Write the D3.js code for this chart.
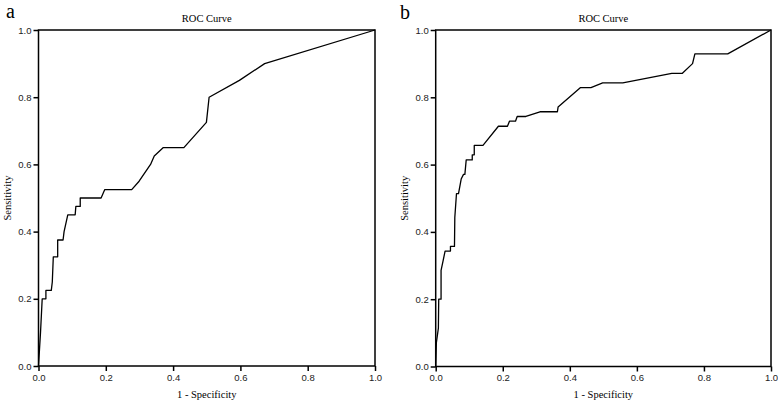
<!DOCTYPE html>
<html><head><meta charset="utf-8">
<script src="https://cdn.jsdelivr.net/npm/d3@7"></script>
<style>
body{margin:0;background:#fff;}
svg{display:block;}
</style></head>
<body>
<svg id="chart" width="778" height="402"></svg>
<script>
// Panel a: ROC curve (1 - specificity, sensitivity)
const fprA = [0,0.003,0.006,0.011,0.022,0.022,0.038,0.041,0.044,0.057,0.057,0.073,0.076,0.087,0.109,0.111,0.124,0.124,0.186,0.197,0.277,0.299,0.333,0.344,0.371,0.432,0.499,0.507,0.597,0.672,1];
const tprA = [0,0.05,0.1,0.2,0.2,0.225,0.225,0.25,0.325,0.325,0.375,0.375,0.4,0.45,0.45,0.475,0.475,0.5,0.5,0.525,0.525,0.55,0.6,0.625,0.65,0.65,0.725,0.8,0.85,0.9,1];
// Panel b
const fprB = [0,0.002,0.008,0.009,0.016,0.016,0.022,0.028,0.044,0.044,0.056,0.057,0.062,0.068,0.076,0.083,0.087,0.091,0.109,0.109,0.115,0.115,0.141,0.187,0.214,0.22,0.238,0.243,0.269,0.311,0.363,0.365,0.432,0.463,0.498,0.558,0.704,0.735,0.766,0.773,0.871,1];
const tprB = [0,0.071,0.114,0.2,0.2,0.286,0.314,0.343,0.343,0.357,0.357,0.443,0.514,0.514,0.557,0.571,0.571,0.614,0.614,0.629,0.629,0.657,0.657,0.714,0.714,0.729,0.729,0.743,0.743,0.757,0.757,0.771,0.829,0.829,0.843,0.843,0.871,0.871,0.9,0.929,0.929,1];
const tickValues = [0,0.2,0.4,0.6,0.8,1.0];
const panelLetters = ["a","b"];
const chartTitle = "ROC Curve";
const xTitle = "1 - Specificity";
const yTitle = "Sensitivity";

const svg = d3.select("#chart");
const panels = [
  {letter: panelLetters[0], fpr: fprA, tpr: tprA, x0: 38.5, x1: 375, y0: 366, y1: 30, lx: 6, ly: 18, ytx: 11},
  {letter: panelLetters[1], fpr: fprB, tpr: tprB, x0: 435.7, x1: 771, y0: 366.5, y1: 30, lx: 400, ly: 19, ytx: 408}
];

panels.forEach(p => {
  const x = d3.scaleLinear().domain([0,1]).range([p.x0, p.x1]);
  const y = d3.scaleLinear().domain([0,1]).range([p.y0, p.y1]);
  const g = svg.append("g");

  // frame
  g.append("rect").attr("x", p.x0).attr("y", p.y1).attr("width", p.x1 - p.x0).attr("height", p.y0 - p.y1)
    .attr("fill", "none").attr("stroke", "#000").attr("stroke-width", 1.5);

  const fmt = d3.format(".1f");
  const xa = g.append("g").attr("transform", `translate(0,${p.y0})`)
    .call(d3.axisBottom(x).tickValues(tickValues).tickFormat(fmt).tickSize(5).tickPadding(3));
  const ya = g.append("g").attr("transform", `translate(${p.x0},0)`)
    .call(d3.axisLeft(y).tickValues(tickValues).tickFormat(fmt).tickSize(5).tickPadding(2));
  [xa, ya].forEach(a => {
    a.select(".domain").remove();
    a.selectAll(".tick line").attr("stroke", "#000").attr("stroke-width", 1.5);
    a.selectAll(".tick text").attr("font-family", "Liberation Sans, Arial, sans-serif").attr("font-size", 9.5).attr("fill", "#222");
  });

  const line = d3.line().x((d,i) => x(p.fpr[i])).y((d,i) => y(p.tpr[i]));
  g.append("path").datum(p.fpr).attr("d", line).attr("fill", "none").attr("stroke", "#000")
    .attr("stroke-width", 1.3).attr("stroke-linejoin", "round");

  const serif = "Liberation Serif, Times New Roman, serif";
  g.append("text").attr("x", (p.x0 + p.x1) / 2).attr("y", 22).attr("text-anchor", "middle")
    .attr("font-family", serif).attr("font-size", 10.5).text(chartTitle);
  g.append("text").attr("x", (p.x0 + p.x1) / 2).attr("y", 398).attr("text-anchor", "middle")
    .attr("font-family", serif).attr("font-size", 10.5).text(xTitle);
  g.append("text").attr("transform", `translate(${p.ytx},${(p.y0 + p.y1) / 2}) rotate(-90)`).attr("text-anchor", "middle")
    .attr("font-family", serif).attr("font-size", 10.5).text(yTitle);
  g.append("text").attr("x", p.lx).attr("y", p.ly).attr("font-family", serif).attr("font-size", 20).text(p.letter);
});
</script>
</body></html>
